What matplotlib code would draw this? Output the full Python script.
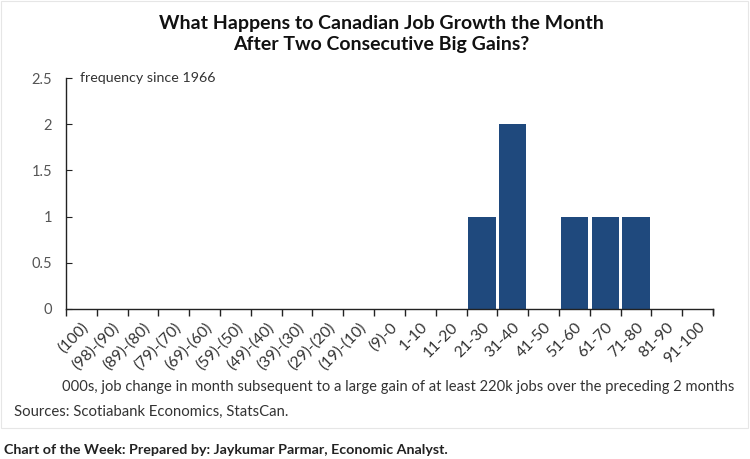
import numpy as np
import matplotlib.pyplot as plt
from matplotlib.patches import Rectangle

plt.rcParams['font.family'] = ['Lato', 'DejaVu Sans']

# data
bins = ["(100)", "(98)-(90)", "(89)-(80)", "(79)-(70)", "(69)-(60)", "(59)-(50)",
        "(49)-(40)", "(39)-(30)", "(29)-(20)", "(19)-(10)", "(9)-0", "1-10", "11-20",
        "21-30", "31-40", "41-50", "51-60", "61-70", "71-80", "81-90", "91-100"]
freq = [0, 0, 0, 0, 0, 0, 0, 0, 0, 0, 0, 0, 0, 1, 2, 0, 1, 1, 1, 0, 0]
yticks = [0, 0.5, 1, 1.5, 2, 2.5]
yticklabels = ["0", "0.5", "1", "1.5", "2", "2.5"]

bar_color = "#1F497D"
txt = "#333333"

fig = plt.figure(figsize=(7.5, 4.59), dpi=100)
ax = fig.add_axes([0.088, 0.3268, 0.8627, 0.5032])

x = np.arange(len(bins))
ax.bar(x, freq, width=0.88, color=bar_color, zorder=2)

ax.set_xlim(-0.5, len(bins) - 0.5)
ax.set_ylim(0, 2.5)

# labels at category centres, ticks at the boundaries
ax.set_xticks(x)
ax.set_xticklabels(bins, rotation=45, ha="right", rotation_mode="anchor",
                   fontsize=11.3, color=txt)
ax.tick_params(axis="x", which="major", length=0, pad=8)
ax.set_xticks(np.arange(-0.5, len(bins)), minor=True)
ax.tick_params(axis="x", which="minor", length=5, direction="out", color="#222222", width=1)

ax.set_yticks(yticks)
ax.set_yticklabels(yticklabels, fontsize=10.5, color="#555555")
ax.tick_params(axis="y", length=4, direction="in", color="#222222", pad=10)

for s in ["top", "right"]:
    ax.spines[s].set_visible(False)
for s in ["left", "bottom"]:
    ax.spines[s].set_color("#222222")
    ax.spines[s].set_linewidth(1)
# small end tick at the right of the x axis
ax.plot([1, 1], [0, -0.022], transform=ax.transAxes, color="#222222", lw=1, clip_on=False)

ax.text(0.022, 1.0, "frequency since 1966", transform=ax.transAxes, fontsize=10.3,
        color=txt, va="center", ha="left")

fig.text(0.508, 0.968, "What Happens to Canadian Job Growth the Month\nAfter Two Consecutive Big Gains?",
         ha="center", va="top", fontsize=14, fontweight="bold", color="#111111", linespacing=1.3)

fig.text(0.083, 0.157, "000s, job change in month subsequent to a large gain of at least 220k jobs over the preceding 2 months",
         ha="left", va="center", fontsize=10.6, color=txt)
fig.text(0.019, 0.102, "Sources: Scotiabank Economics, StatsCan.", ha="left", va="center",
         fontsize=10.7, color=txt)
fig.text(0.005, 0.02, "Chart of the Week: Prepared by: Jaykumar Parmar, Economic Analyst.",
         ha="left", va="center", fontsize=10.3, fontweight="bold", color="#222222")

fig.patches.append(Rectangle((0.001, 0.0675), 0.996, 0.93, transform=fig.transFigure,
                             fill=False, edgecolor="#e6e6e6", lw=0.8))

fig.savefig("out.png", dpi=100)
